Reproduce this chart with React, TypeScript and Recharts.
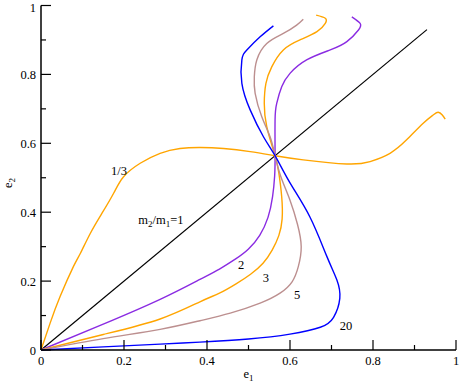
// Eccentricity plane e1 vs e2 for several mass ratios m2/m1.
// All branches leave the origin and cross at the common point near (0.564, 0.564).

import { LineChart, Line, XAxis, YAxis, ReferenceDot } from "recharts";

type Pt = { x: number; y: number };

const TICKS = [0, 0.1, 0.2, 0.3, 0.4, 0.5, 0.6, 0.7, 0.8, 0.9, 1];
const MAJOR = [0, 0.2, 0.4, 0.6, 0.8, 1];

const equalMass: Pt[] = [{ x: 0, y: 0 }, { x: 0.93, y: 0.93 }];

const ratioThird: Pt[] = [
  { x: 0, y: 0 }, { x: 0.022, y: 0.078 }, { x: 0.046, y: 0.155 }, { x: 0.078, y: 0.242 },
  { x: 0.095, y: 0.281 }, { x: 0.119, y: 0.339 }, { x: 0.147, y: 0.397 }, { x: 0.175, y: 0.455 },
  { x: 0.199, y: 0.503 }, { x: 0.239, y: 0.542 }, { x: 0.287, y: 0.571 }, { x: 0.335, y: 0.585 },
  { x: 0.384, y: 0.588 }, { x: 0.44, y: 0.585 }, { x: 0.504, y: 0.576 }, { x: 0.564, y: 0.564 },
  { x: 0.632, y: 0.552 }, { x: 0.737, y: 0.54 }, { x: 0.793, y: 0.547 }, { x: 0.841, y: 0.571 },
  { x: 0.881, y: 0.61 }, { x: 0.921, y: 0.658 }, { x: 0.945, y: 0.682 }, { x: 0.957, y: 0.69 },
  { x: 0.967, y: 0.682 }, { x: 0.974, y: 0.67 },
];

const ratio2: Pt[] = [
  { x: 0, y: 0 }, { x: 0.15, y: 0.075 }, { x: 0.287, y: 0.147 }, { x: 0.383, y: 0.205 },
  { x: 0.43, y: 0.235 }, { x: 0.47, y: 0.265 }, { x: 0.5, y: 0.293 }, { x: 0.527, y: 0.333 },
  { x: 0.547, y: 0.385 }, { x: 0.558, y: 0.445 }, { x: 0.563, y: 0.505 }, { x: 0.564, y: 0.564 },
  { x: 0.564, y: 0.668 }, { x: 0.568, y: 0.716 }, { x: 0.58, y: 0.764 }, { x: 0.6, y: 0.803 },
  { x: 0.64, y: 0.842 }, { x: 0.697, y: 0.871 }, { x: 0.737, y: 0.895 }, { x: 0.765, y: 0.929 },
  { x: 0.769, y: 0.948 }, { x: 0.749, y: 0.967 },
];

const ratio3: Pt[] = [
  { x: 0, y: 0 }, { x: 0.15, y: 0.045 }, { x: 0.287, y: 0.09 }, { x: 0.383, y: 0.14 },
  { x: 0.43, y: 0.165 }, { x: 0.47, y: 0.192 }, { x: 0.505, y: 0.22 }, { x: 0.535, y: 0.252 },
  { x: 0.557, y: 0.29 }, { x: 0.573, y: 0.332 }, { x: 0.581, y: 0.38 }, { x: 0.58, y: 0.445 },
  { x: 0.573, y: 0.515 }, { x: 0.564, y: 0.564 }, { x: 0.544, y: 0.648 }, { x: 0.538, y: 0.716 },
  { x: 0.542, y: 0.774 }, { x: 0.556, y: 0.822 }, { x: 0.584, y: 0.871 }, { x: 0.624, y: 0.9 },
  { x: 0.665, y: 0.924 }, { x: 0.685, y: 0.948 }, { x: 0.685, y: 0.963 }, { x: 0.663, y: 0.972 },
];

const ratio5: Pt[] = [
  { x: 0, y: 0 }, { x: 0.15, y: 0.033 }, { x: 0.287, y: 0.06 }, { x: 0.383, y: 0.085 },
  { x: 0.456, y: 0.107 }, { x: 0.528, y: 0.136 }, { x: 0.576, y: 0.165 }, { x: 0.605, y: 0.198 },
  { x: 0.62, y: 0.242 }, { x: 0.627, y: 0.3 }, { x: 0.618, y: 0.365 }, { x: 0.6, y: 0.435 },
  { x: 0.578, y: 0.503 }, { x: 0.564, y: 0.564 }, { x: 0.552, y: 0.619 }, { x: 0.532, y: 0.677 },
  { x: 0.516, y: 0.745 }, { x: 0.514, y: 0.793 }, { x: 0.52, y: 0.842 }, { x: 0.544, y: 0.89 },
  { x: 0.584, y: 0.919 }, { x: 0.616, y: 0.943 }, { x: 0.632, y: 0.96 },
];

const ratio20: Pt[] = [
  { x: 0, y: 0 }, { x: 0.15, y: 0.009 }, { x: 0.287, y: 0.017 }, { x: 0.383, y: 0.023 },
  { x: 0.5, y: 0.032 }, { x: 0.6, y: 0.046 }, { x: 0.673, y: 0.066 }, { x: 0.705, y: 0.095 },
  { x: 0.72, y: 0.15 }, { x: 0.713, y: 0.203 }, { x: 0.689, y: 0.271 }, { x: 0.648, y: 0.386 },
  { x: 0.6, y: 0.485 }, { x: 0.564, y: 0.564 }, { x: 0.536, y: 0.619 }, { x: 0.504, y: 0.697 },
  { x: 0.484, y: 0.774 }, { x: 0.484, y: 0.842 }, { x: 0.496, y: 0.871 }, { x: 0.528, y: 0.909 },
  { x: 0.56, y: 0.941 },
];

const CURVES = [
  { name: "1", data: equalMass, color: "#000000", width: 1.2 },
  { name: "1/3", data: ratioThird, color: "#ffa500", width: 1.4 },
  { name: "2", data: ratio2, color: "#8a2be2", width: 1.4 },
  { name: "3", data: ratio3, color: "#ffa500", width: 1.4 },
  { name: "5", data: ratio5, color: "#bc8f8f", width: 1.4 },
  { name: "20", data: ratio20, color: "#0000ff", width: 1.4 },
];

// curve annotations, placed in data coordinates
const NOTES = [
  { x: 0.188, y: 0.522, text: "1/3" },
  { x: 0.482, y: 0.247, text: "2" },
  { x: 0.542, y: 0.209, text: "3" },
  { x: 0.617, y: 0.16, text: "5" },
  { x: 0.735, y: 0.07, text: "20" },
];
const RATIO_NOTE = { x: 0.289, y: 0.38 };

const FONT = "'Liberation Serif', 'Times New Roman', 'DejaVu Serif', serif";
const TXT = { fontFamily: FONT, fontSize: 12.5 };
const SUB = { fontSize: 9 };
const isMajor = (v: number) => MAJOR.some((m) => Math.abs(m - v) < 1e-6);
const fmt = (v: number) => String(Math.round(v * 10) / 10);

function tickMark(side: "bottom" | "top" | "left" | "right", labelled: boolean) {
  return (props: any) => {
    const { x, y, payload } = props;
    const v = payload.value as number;
    const len = isMajor(v) ? 10 : 5;
    let line;
    if (side === "bottom") line = <line x1={x} x2={x} y1={y} y2={y - len} stroke="#000" strokeWidth={1.2} />;
    else if (side === "top") line = <line x1={x} x2={x} y1={y} y2={y + len} stroke="#000" strokeWidth={1.2} />;
    else if (side === "left") line = <line x1={x} x2={x + len} y1={y} y2={y} stroke="#000" strokeWidth={1.2} />;
    else line = <line x1={x} x2={x - len} y1={y} y2={y} stroke="#000" strokeWidth={1.2} />;
    return (
      <g>
        {line}
        {labelled && isMajor(v) && side === "bottom" && (
          <text x={x} y={y + 15} textAnchor="middle" style={TXT} fill="#000">{fmt(v)}</text>
        )}
        {labelled && isMajor(v) && side === "left" && (
          <text x={x - 5} y={Math.max(y + 4.5, 12)} textAnchor="end" style={TXT} fill="#000">{fmt(v)}</text>
        )}
      </g>
    );
  };
}

function noteShape(text: string) {
  return (p: any) => (
    <text x={p.cx} y={p.cy + 4.5} textAnchor="middle" style={TXT} fill="#000">{text}</text>
  );
}

function ratioShape(p: any) {
  return (
    <text x={p.cx} y={p.cy + 4.5} textAnchor="middle" style={TXT} fill="#000">
      m<tspan style={SUB} dy={3}>2</tspan>
      <tspan dy={-3}>/m</tspan>
      <tspan style={SUB} dy={3}>1</tspan>
      <tspan dy={-3}>=1</tspan>
    </text>
  );
}

export default function App() {
  return (
    <div style={{ position: "absolute", left: 0, top: 0, width: 460, height: 384, background: "#fff", fontFamily: FONT }}>
      <LineChart width={460} height={384} margin={{ top: 5.5, right: 4, bottom: 0, left: 0 }} style={{ fontFamily: FONT }}>
        <XAxis
          dataKey="x" type="number" domain={[0, 1]} ticks={TICKS} interval={0}
          height={34} tickSize={0} tickMargin={0} tickLine={false}
          axisLine={{ stroke: "#000", strokeWidth: 1.5 }}
          tick={tickMark("bottom", true)}
          label={(p: any) => {
            const vb = p.viewBox;
            return (
              <text x={vb.x + vb.width / 2} y={vb.y + 28} textAnchor="middle" style={TXT} fill="#000">
                e<tspan style={SUB} dy={3}>1</tspan>
              </text>
            );
          }}
        />
        <XAxis
          xAxisId="top" orientation="top" type="number" domain={[0, 1]} ticks={TICKS} interval={0}
          height={0} tickSize={0} tickMargin={0} tickLine={false}
          axisLine={{ stroke: "#000", strokeWidth: 1.5 }}
          tick={tickMark("top", false)}
        />
        <YAxis
          type="number" domain={[0, 1]} ticks={TICKS} interval={0}
          width={41} tickSize={0} tickMargin={0} tickLine={false}
          axisLine={{ stroke: "#000", strokeWidth: 1.5 }}
          tick={tickMark("left", true)}
          label={() => (
            <text x={12} y={183} textAnchor="middle" style={TXT} fill="#000" transform="rotate(-90 12 183)">
              e<tspan style={SUB} dy={3}>2</tspan>
            </text>
          )}
        />
        <YAxis
          yAxisId="right" orientation="right" type="number" domain={[0, 1]} ticks={TICKS} interval={0}
          width={0} tickSize={0} tickMargin={0} tickLine={false}
          axisLine={{ stroke: "#000", strokeWidth: 1.5 }}
          tick={tickMark("right", false)}
        />
        {CURVES.map((c) => (
          <Line
            key={c.name} data={c.data} dataKey="y" type="natural"
            stroke={c.color} strokeWidth={c.width} dot={false} activeDot={false}
            isAnimationActive={false}
          />
        ))}
        {NOTES.map((n) => (
          <ReferenceDot key={n.text} x={n.x} y={n.y} r={0} shape={noteShape(n.text)} />
        ))}
        <ReferenceDot x={RATIO_NOTE.x} y={RATIO_NOTE.y} r={0} shape={ratioShape} />
      </LineChart>
    </div>
  );
}
